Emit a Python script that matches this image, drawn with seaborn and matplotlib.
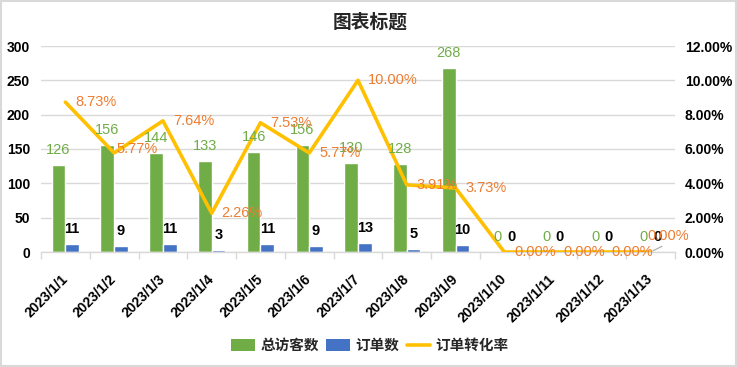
import numpy as np
import pandas as pd
import matplotlib
matplotlib.use('Agg')
import matplotlib.pyplot as plt
import seaborn as sns
from matplotlib.patches import Patch, Rectangle
from matplotlib.lines import Line2D
from matplotlib.ticker import MultipleLocator, FixedLocator, PercentFormatter

# ---- data ----
dates = ['2023/1/1', '2023/1/2', '2023/1/3', '2023/1/4', '2023/1/5', '2023/1/6', '2023/1/7',
         '2023/1/8', '2023/1/9', '2023/1/10', '2023/1/11', '2023/1/12', '2023/1/13']
visitors = [126, 156, 144, 133, 146, 156, 130, 128, 268, 0, 0, 0, 0]
orders = [11, 9, 11, 3, 11, 9, 13, 5, 10, 0, 0, 0, 0]
rates = [0.0873, 0.0577, 0.0764, 0.0226, 0.0753, 0.0577, 0.1000, 0.0391, 0.0373, 0.0, 0.0, 0.0, 0.0]
rate_labels = ['8.73%', '5.77%', '7.64%', '2.26%', '7.53%', '5.77%', '10.00%', '3.91%', '3.73%',
               '0.00%', '0.00%', '0.00%', '0.00%']
series_names = ['总访客数', '订单数', '订单转化率']
title = '图表标题'

# ---- style ----
GREEN = '#70AD47'
BLUE = '#4472C4'
YELLOW = '#FFC000'
ORANGE = '#ED7D31'
GRID = '#D9D9D9'

sns.set_theme(style='white')
FONTS = ['Liberation Sans', 'Noto Sans CJK SC', 'DejaVu Sans']
plt.rcParams['font.family'] = FONTS
CJK = ['Noto Sans CJK SC', 'DejaVu Sans']

fig = plt.figure(figsize=(7.37, 3.67), dpi=100)
W, H = 737, 367
ax = fig.add_axes([41 / W, 1 - 252 / H, (675 - 41) / W, (252 - 46) / H])

n = len(dates)
df = pd.DataFrame({
    'date': dates * 2,
    'value': visitors + orders,
    'series': [series_names[0]] * n + [series_names[1]] * n,
})
sns.barplot(data=df, x='date', y='value', hue='series', hue_order=series_names[:2],
            palette=[GREEN, BLUE], width=0.56, gap=0, saturation=1, ax=ax, legend=False,
            errorbar=None)

ax2 = ax.twinx()
sns.lineplot(x=np.arange(n), y=rates, ax=ax2, color=YELLOW, lw=2.6, legend=False)

ax.set_xlim(-0.5, n - 0.5)
ax.set_ylim(0, 300)
ax2.set_ylim(0, 0.12)

# axes styling
for a in (ax, ax2):
    for s in a.spines.values():
        s.set_visible(False)
ax.spines['bottom'].set_visible(True)
ax.spines['bottom'].set_color(GRID)
ax.spines['bottom'].set_linewidth(1)

ax.yaxis.set_major_locator(MultipleLocator(50))
ax.grid(axis='y', color=GRID, lw=1)
ax.grid(axis='x', visible=False)
ax2.grid(False)
ax.set_axisbelow(True)

ax.set_xlabel('')
ax.set_ylabel('')
ax2.set_ylabel('')
ax.set_xticks(range(n))
ax.set_xticklabels(dates, rotation=45, ha='right', va='center', rotation_mode='anchor',
                   fontsize=10, fontweight='bold', color='black')
ax.tick_params(axis='x', which='major', length=0, pad=18)
ax.xaxis.set_minor_locator(FixedLocator(np.arange(-0.5, n, 1)))
ax.tick_params(axis='x', which='minor', bottom=True, length=5, width=1, color=GRID)
ax.tick_params(axis='y', length=0, pad=8, labelsize=10)
for lab in ax.get_yticklabels():
    lab.set_fontweight('bold')
    lab.set_color('black')

ax2.yaxis.set_major_locator(MultipleLocator(0.02))
ax2.yaxis.set_major_formatter(PercentFormatter(1, decimals=2))
ax2.tick_params(axis='y', length=0, pad=7, labelsize=10)
for lab in ax2.get_yticklabels():
    lab.set_fontweight('bold')
    lab.set_color('black')

# bar labels (drawn on ax2 so they sit above the line)
for cont, vals, col, wt in zip(ax.containers, [visitors, orders], [GREEN, 'black'], ['normal', 'bold']):
    for bar, v in zip(cont.patches, vals):
        cx = bar.get_x() + bar.get_width() / 2
        ax2.annotate(str(v), xy=(cx, bar.get_height()), xycoords=ax.transData,
                     xytext=(0, 15), textcoords='offset pixels', ha='center', va='center',
                     fontsize=10.5, color=col, fontweight=wt, zorder=5)

# rate labels
rate_offsets = [(10, 0), (2, 4), (10, 0), (10, 0), (10, 0), (10, 0), (10, 0), (10, 0), (10, 0),
                (10, 0), (10, 0), (10, 0), None]
for i, (r, lab) in enumerate(zip(rates, rate_labels)):
    off = rate_offsets[i]
    if off is None:
        ax2.annotate(lab, xy=(i, r), xytext=(-3, 16), textcoords='offset pixels',
                     ha='left', va='center', fontsize=10.5, color=ORANGE, zorder=5,
                     arrowprops=dict(arrowstyle='-', color='#A6A6A6', lw=0.8,
                                     shrinkA=0, shrinkB=2, relpos=(0.5, 0)))
    else:
        ax2.annotate(lab, xy=(i, r), xytext=off, textcoords='offset pixels',
                     ha='left', va='center', fontsize=10.5, color=ORANGE, zorder=5)

# title
fig.text(370 / W, 1 - 22 / H, title, ha='center', va='center', fontsize=13.5,
         fontweight='bold', family=CJK)

# legend
handles = [Patch(facecolor=GREEN, edgecolor='none'),
           Patch(facecolor=BLUE, edgecolor='none'),
           Line2D([0], [0], color=YELLOW, lw=2.6)]
fig.legend(handles, series_names, loc='center', bbox_to_anchor=(370 / W, 1 - 345 / H),
           ncol=3, frameon=False, prop={'family': CJK, 'weight': 'bold', 'size': 10.5},
           handlelength=1.6, handleheight=0.8, handletextpad=0.4, columnspacing=0.5)

fig.add_artist(Rectangle((0.001, 0.002), 0.997, 0.996, transform=fig.transFigure, fill=False,
                         edgecolor=GRID, lw=1.5))

fig.savefig('out.png', dpi=100)
